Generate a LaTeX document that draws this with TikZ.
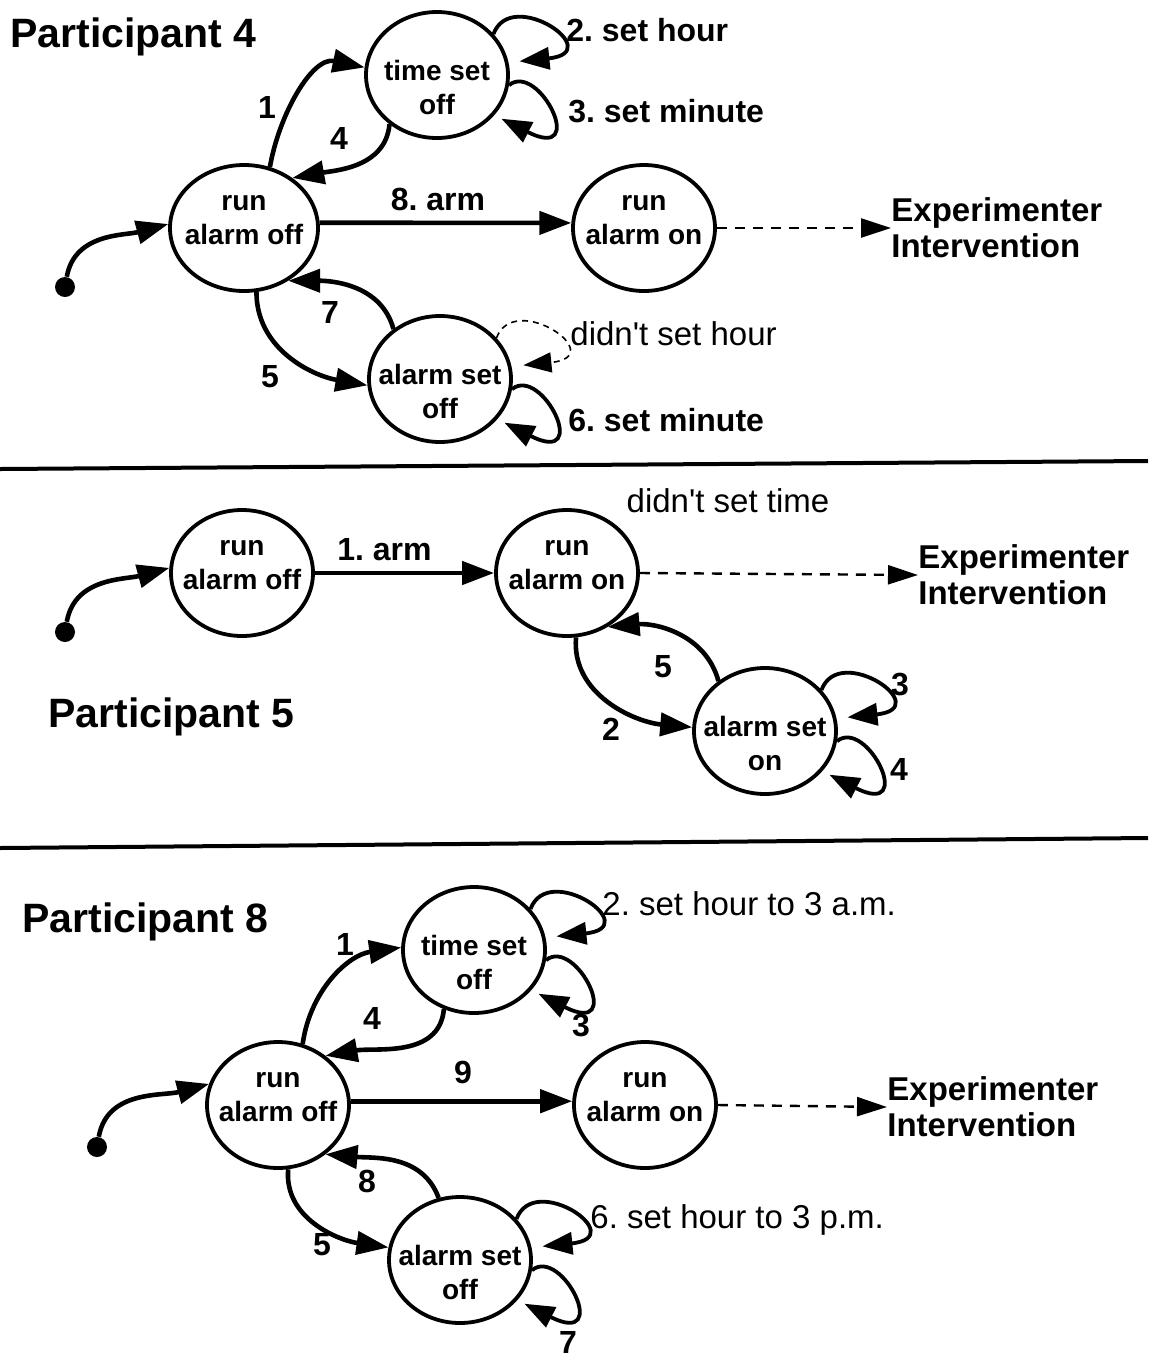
\documentclass[tikz,border=0pt]{standalone}
\usepackage{fontspec}
\setmainfont{Liberation Sans}
\usetikzlibrary{arrows.meta,shapes.geometric}
\newcommand\uploop[3][5.5pt]{\draw[#3, shorten >=#1] (#2.36) .. controls +(18,-48) and +(100,-10) .. (#2.10);}
\newcommand\dnloop[2][4pt]{\draw[lp, shorten >=4pt] (#2.-8) .. controls +(30,-24) and +(95,48) .. (#2.-35);}
\newcommand\st[2]{\makebox[0pt]{\smash{\begin{tabular}{@{}c@{}}#1\\#2\end{tabular}}}}
\newcommand\stl[2]{\makebox[0pt]{\smash{\raisebox{-11.5pt}{\begin{tabular}{@{}c@{}}#1\\#2\end{tabular}}}}}
\begin{document}
\frenchspacing
\begin{tikzpicture}[x=0.5pt,y=-0.5pt,
  state/.style={ellipse, draw, line width=1.9pt, minimum width=71pt, minimum height=63pt, inner sep=0pt, font=\fontsize{14}{17}\selectfont\bfseries},
  arr/.style={line width=2.3pt, -{Triangle[length=16pt,width=11.5pt]}},
  lp/.style={line width=1.9pt, -{Triangle[length=15pt,width=11pt]}},
  dsh/.style={line width=1.2pt, dash pattern=on 5pt off 4pt, -{Triangle[length=15pt,width=9.5pt]}},
  dlp/.style={line width=0.8pt, dash pattern=on 3pt off 2.5pt, -{Triangle[length=14pt,width=10pt]}},
  init/.style={circle, fill, inner sep=0pt, minimum size=10pt},
  lbl/.style={font=\fontsize{16}{19}\selectfont\bfseries, inner sep=0pt},
  rlbl/.style={font=\fontsize{16.5}{19}\selectfont, inner sep=0pt},
  ttl/.style={font=\fontsize{20.5}{24}\selectfont\bfseries, inner sep=0pt, anchor=base west},
  ext/.style={font=\fontsize{16.5}{18}\selectfont\bfseries, align=left, inner sep=0pt, anchor=west},
]
\useasboundingbox (0,0) rectangle (1150,1357);

% ---------------- Participant 4 ----------------
\node[ttl] (t4) at (10,47) {Participant 4};
\node[state] (ts4) at (437,75) {\stl{time set}{off}};
\node[state, minimum width=74pt] (ra4) at (244,228) {\st{run}{alarm off}};
\node[state] (rn4) at (644,228) {\st{run}{alarm on}};
\node[state] (as4) at (440,379) {\stl{alarm set}{off}};
\node[init] (i4) at (65,287) {};
\node[ext] (ex4) at (891,228) {Experimenter\\Intervention};

\draw[arr] (i4) to[out=80, in=195] (ra4.177);
\draw[arr] (ra4.67) to[out=80, in=168] (ts4.174);
\draw[arr] (ts4.226) to[out=265, in=10] (ra4.46);
\draw[arr] (ra4.4) -- (rn4.176);
\draw[arr] (as4.133) to[out=105, in=0] (ra4.310);
\draw[arr] (ra4.281) to[out=270, in=170] (as4.185);
\draw[dsh] (rn4.east) -- (ex4.west);
\uploop{ts4}{lp}
\dnloop{ts4}
\uploop[6pt]{as4}{dlp}
\dnloop{as4}

\node[lbl] (l41) at (267,107) {1};
\node[lbl] (l44) at (339,138) {4};
\node[lbl] (l47) at (330,312) {7};
\node[lbl] (l45) at (270,377) {5};
\node[lbl, anchor=base] (l48) at (438,210) {8. arm};
\node[lbl, anchor=base west] (l42) at (566,41) {2. set hour};
\node[lbl, anchor=base west] (l43) at (568,122) {3. set minute};
\node[rlbl, anchor=base west] (l4d) at (570,345) {didn\textquotesingle t set hour};
\node[lbl, anchor=base west] (l46) at (568,431) {6. set minute};

\draw[line width=2pt] (0,469) -- (1148,461);

% ---------------- Participant 5 ----------------
\node[state] (ra5) at (242,573) {\st{run}{alarm off}};
\node[state] (rn5) at (567,573) {\st{run}{alarm on}};
\node[state] (as5) at (765,731) {\stl{alarm set}{on}};
\node[init] (i5) at (65,632) {};
\node[ext] (ex5) at (918,575) {Experimenter\\Intervention};
\node[ttl] (t5) at (48,727) {Participant 5};

\draw[arr] (i5) to[out=80, in=195] (ra5.176);
\draw[arr] (ra5.east) -- (rn5.west);
\draw[dsh] (rn5.east) -- (ex5.west);
\draw[arr] (rn5.278) to[out=265, in=175] (as5.177);
\draw[arr] (as5.133) to[out=105, in=5] (rn5.307);
\uploop{as5}{lp}
\dnloop{as5}

\node[rlbl, anchor=base] (l5d) at (728,512) {didn\textquotesingle t set time};
\node[lbl, anchor=base west] (l51) at (337,560) {1. arm};
\node[lbl] (l55) at (663,667) {5};
\node[lbl] (l52) at (611,729) {2};
\node[lbl] (l53) at (900,684) {3};
\node[lbl] (l54) at (899,769) {4};

\draw[line width=2pt] (0,848) -- (1148,838);

% ---------------- Participant 8 ----------------
\node[ttl] (t8) at (22,932) {Participant 8};
\node[state] (ts8) at (474,950) {\stl{time set}{off}};
\node[state] (ra8) at (278,1105) {\st{run}{alarm off}};
\node[state] (rn8) at (645,1105) {\st{run}{alarm on}};
\node[state] (as8) at (460,1260) {\stl{alarm set}{off}};
\node[init] (i8) at (97,1147) {};
\node[ext] (ex8) at (887,1107) {Experimenter\\Intervention};

\draw[arr] (i8) to[out=80, in=195] (ra8.163);
\draw[arr] (ra8.68) to[out=82, in=188] (ts8.178);
\draw[arr] (ts8.243) to[out=265, in=10] (ra8.46);
\draw[arr] (ra8.3) -- (rn8.177);
\draw[arr] (as8.109) to[out=110, in=-5] (ra8.314);
\draw[arr] (ra8.279) to[out=265, in=172] (as8.170);
\draw[dsh] (rn8.east) -- (ex8.west);
\uploop{ts8}{lp}
\dnloop{ts8}
\uploop{as8}{lp}
\dnloop{as8}

\node[lbl] (l81) at (345,944) {1};
\node[lbl] (l84) at (372,1018) {4};
\node[lbl] (l89) at (463,1072) {9};
\node[lbl] (l88) at (367,1181) {8};
\node[lbl] (l85) at (322,1245) {5};
\node[lbl] (l83) at (581,1025) {3};
\node[lbl] (l87) at (568,1342) {7};
\node[rlbl, anchor=base west] (l82) at (602,915) {2. set hour to 3 a.m.};
\node[rlbl, anchor=base west] (l86) at (590,1228) {6. set hour to 3 p.m.};
\end{tikzpicture}
\end{document}
